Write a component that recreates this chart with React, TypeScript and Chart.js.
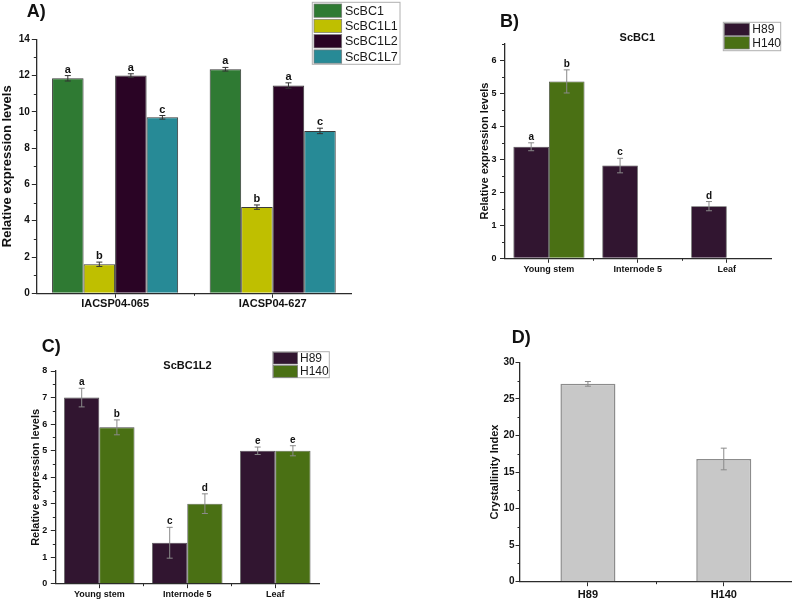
import { useEffect, useRef } from "react";
import { Chart, registerables } from "chart.js";

Chart.register(...registerables);

const FONT = "'Liberation Sans', Arial, Helvetica, sans-serif";

// ---- A) expression of the ScBC genes in two cultivars ----
const cultivars = ["IACSP04-065", "IACSP04-627"];
const scbc1 = [11.85, 12.35];
const scbc1Err = [0.15, 0.1];
const scbc1Letters = ["a", "a"];
const scbc1l1 = [1.6, 4.75];
const scbc1l1Err = [0.12, 0.12];
const scbc1l1Letters = ["b", "b"];
const scbc1l2 = [12.0, 11.45];
const scbc1l2Err = [0.1, 0.15];
const scbc1l2Letters = ["a", "a"];
const scbc1l7 = [9.7, 8.95];
const scbc1l7Err = [0.1, 0.15];
const scbc1l7Letters = ["c", "c"];

// ---- B) ScBC1 by tissue ----
const tissues = ["Young stem", "Internode 5", "Leaf"];
const bH89 = [3.38, 2.81, 1.58];
const bH89Err = [0.12, 0.22, 0.14];
const bH89Letters = ["a", "c", "d"];
const bH140 = [5.36, null, null];
const bH140Err = [0.35, null, null];
const bH140Letters = ["b", "", ""];

// ---- C) ScBC1L2 by tissue ----
const cH89 = [7.0, 1.54, 5.0];
const cH89Err = [0.35, 0.58, 0.14];
const cH89Letters = ["a", "c", "e"];
const cH140 = [5.88, 3.01, 5.0];
const cH140Err = [0.28, 0.37, 0.19];
const cH140Letters = ["b", "d", "e"];

// ---- D) crystallinity index ----
const genotypes = ["H89", "H140"];
const crystallinity = [27.05, 16.78];
const crystallinityErr = [0.32, 1.48];

type Rect = { x: number; y: number; w: number; h: number };
type Plot = { l: number; t: number; r: number; b: number };

interface SeriesSpec {
  label: string;
  data: (number | null)[];
  err: (number | null)[];
  letters?: string[];
  color: string;
}

interface LegendSpec {
  x: number;
  y: number;
  w: number;
  h: number;
  rowH: number;
  inset: number;
  swatchW: number;
  swatchH: number;
  textX: number;
  fontSize: number;
}

interface PanelSpec {
  canvas: Rect;
  plot: Plot;
  categories: string[];
  series: SeriesSpec[];
  yMax: number;
  yStep: number;
  yTitle: string;
  yTitleSize: number;
  yTickSize: number;
  yTickPad: number;
  xTickSize: number;
  xTickPad: number;
  categoryPct: number;
  barBorder: string;
  barBorderWidth: number;
  errColor: string;
  capHalf: number;
  letterSize: number;
  tag: { text: string; x: number; y: number };
  heading?: { text: string; x: number; y: number; size: number };
  legend?: LegendSpec;
}

const AXIS = "#2b2b2b";
const TEXT = "#111111";
const MAJOR_LEN = 4.5;
const MINOR_LEN = 2.5;

const H89_COLOR = "#311530";
const H140_COLOR = "#4a7014";

const panels: PanelSpec[] = [
  {
    canvas: { x: 0, y: 0, w: 420, h: 315 },
    plot: { l: 36.3, t: 39.3, r: 351.5, b: 293.3 },
    categories: cultivars,
    series: [
      { label: "ScBC1", data: scbc1, err: scbc1Err, letters: scbc1Letters, color: "#2f7a33" },
      { label: "ScBC1L1", data: scbc1l1, err: scbc1l1Err, letters: scbc1l1Letters, color: "#bfbf00" },
      { label: "ScBC1L2", data: scbc1l2, err: scbc1l2Err, letters: scbc1l2Letters, color: "#2a0425" },
      { label: "ScBC1L7", data: scbc1l7, err: scbc1l7Err, letters: scbc1l7Letters, color: "#278a96" },
    ],
    yMax: 14,
    yStep: 2,
    yTitle: "Relative expression levels",
    yTitleSize: 13,
    yTickSize: 10,
    yTickPad: 2,
    xTickSize: 11,
    xTickPad: 0,
    categoryPct: 0.8,
    barBorder: "#3a3a3a",
    barBorderWidth: 1,
    errColor: "#333333",
    capHalf: 3,
    letterSize: 11,
    tag: { text: "A)", x: 26.7, y: 11.7 },
    legend: {
      x: 312.3, y: 2.3, w: 87.7, h: 62, rowH: 15.3, inset: 1.7,
      swatchW: 27.7, swatchH: 13.3, textX: 345, fontSize: 12.5,
    },
  },
  {
    canvas: { x: 478, y: 0, w: 316, h: 285 },
    plot: { l: 504.5, t: 43.8, r: 771.2, b: 258.3 },
    categories: tissues,
    series: [
      { label: "H89", data: bH89, err: bH89Err, letters: bH89Letters, color: H89_COLOR },
      { label: "H140", data: bH140, err: bH140Err, letters: bH140Letters, color: H140_COLOR },
    ],
    yMax: 6.5,
    yStep: 1,
    yTitle: "Relative expression levels",
    yTitleSize: 11,
    yTickSize: 9,
    yTickPad: 3.5,
    xTickSize: 9,
    xTickPad: 1,
    categoryPct: 0.8,
    barBorder: "#444444",
    barBorderWidth: 0.8,
    errColor: "#8a8a8a",
    capHalf: 3,
    letterSize: 10,
    tag: { text: "B)", x: 500, y: 22.5 },
    heading: { text: "ScBC1", x: 637.3, y: 38, size: 11 },
    legend: {
      x: 723.3, y: 22.3, w: 57.4, h: 28.4, rowH: 13.4, inset: 1,
      swatchW: 25, swatchH: 12.3, textX: 752.3, fontSize: 12,
    },
  },
  {
    canvas: { x: 29, y: 325, w: 330, h: 276 },
    plot: { l: 55.3, t: 371, r: 319.3, b: 583.7 },
    categories: tissues,
    series: [
      { label: "H89", data: cH89, err: cH89Err, letters: cH89Letters, color: H89_COLOR },
      { label: "H140", data: cH140, err: cH140Err, letters: cH140Letters, color: H140_COLOR },
    ],
    yMax: 8,
    yStep: 1,
    yTitle: "Relative expression levels",
    yTitleSize: 11,
    yTickSize: 9,
    yTickPad: 3.5,
    xTickSize: 9,
    xTickPad: 1,
    categoryPct: 0.8,
    barBorder: "#444444",
    barBorderWidth: 0.8,
    errColor: "#8a8a8a",
    capHalf: 3,
    letterSize: 10,
    tag: { text: "C)", x: 41.7, y: 346.7 },
    heading: { text: "ScBC1L2", x: 187.5, y: 365.8, size: 11 },
    legend: {
      x: 272.7, y: 351.7, w: 56.6, h: 26, rowH: 13.3, inset: 0.6,
      swatchW: 24.3, swatchH: 11.7, textX: 300, fontSize: 12,
    },
  },
  {
    canvas: { x: 488, y: 320, w: 306, h: 281 },
    plot: { l: 520, t: 362.3, r: 791.7, b: 581.7 },
    categories: genotypes,
    series: [
      { label: "Crystallinity Index", data: crystallinity, err: crystallinityErr, color: "#c8c8c8" },
    ],
    yMax: 30,
    yStep: 5,
    yTitle: "Crystallinity Index",
    yTitleSize: 11,
    yTickSize: 10,
    yTickPad: 1,
    xTickSize: 11,
    xTickPad: 2,
    categoryPct: 0.405,
    barBorder: "#8c8c8c",
    barBorderWidth: 1.5,
    errColor: "#8a8a8a",
    capHalf: 3,
    letterSize: 10,
    tag: { text: "D)", x: 511.7, y: 338.3 },
  },
];

function makeExtras(spec: PanelSpec) {
  const ox = spec.canvas.x;
  const oy = spec.canvas.y;
  return {
    id: "panelExtras",
    afterDatasetsDraw(chart: any) {
      const ctx = chart.ctx;
      const yScale = chart.scales.y;
      chart.data.datasets.forEach((ds: any, i: number) => {
        const meta = chart.getDatasetMeta(i);
        meta.data.forEach((bar: any, j: number) => {
          const v = ds.data[j];
          const e = ds.errorBars ? ds.errorBars[j] : null;
          if (v == null || e == null) return;
          const x = bar.x;
          const top = yScale.getPixelForValue(v + e);
          const bot = yScale.getPixelForValue(v - e);
          ctx.save();
          ctx.strokeStyle = spec.errColor;
          ctx.lineWidth = 1;
          ctx.beginPath();
          ctx.moveTo(x, top);
          ctx.lineTo(x, bot);
          ctx.moveTo(x - spec.capHalf, top);
          ctx.lineTo(x + spec.capHalf, top);
          ctx.moveTo(x - spec.capHalf, bot);
          ctx.lineTo(x + spec.capHalf, bot);
          ctx.stroke();
          const letter = ds.letters ? ds.letters[j] : "";
          if (letter) {
            ctx.fillStyle = TEXT;
            ctx.font = `bold ${spec.letterSize}px ${FONT}`;
            ctx.textAlign = "center";
            ctx.textBaseline = "alphabetic";
            ctx.fillText(letter, x, top - 3);
          }
          ctx.restore();
        });
      });
    },
    afterDraw(chart: any) {
      const ctx = chart.ctx;
      const xScale = chart.scales.x;
      const yScale = chart.scales.y;
      const area = chart.chartArea;
      ctx.save();
      // minor ticks on the value axis
      ctx.strokeStyle = AXIS;
      ctx.lineWidth = 1;
      ctx.beginPath();
      for (let v = spec.yStep / 2; v <= spec.yMax + 1e-9; v += spec.yStep) {
        const py = Math.round(yScale.getPixelForValue(v)) + 0.5;
        ctx.moveTo(area.left, py);
        ctx.lineTo(area.left - MINOR_LEN, py);
      }
      // minor ticks between categories
      for (let k = 1; k < spec.categories.length; k++) {
        const px = Math.round(xScale.getPixelForValue(k - 0.5)) + 0.5;
        ctx.moveTo(px, area.bottom);
        ctx.lineTo(px, area.bottom + MINOR_LEN);
      }
      ctx.stroke();

      // panel tag
      ctx.fillStyle = TEXT;
      ctx.font = `bold 18px ${FONT}`;
      ctx.textAlign = "left";
      ctx.textBaseline = "middle";
      ctx.fillText(spec.tag.text, spec.tag.x - ox, spec.tag.y - oy);

      // heading
      if (spec.heading) {
        ctx.font = `bold ${spec.heading.size}px ${FONT}`;
        ctx.textAlign = "center";
        ctx.fillText(spec.heading.text, spec.heading.x - ox, spec.heading.y - oy);
      }

      // legend
      const lg = spec.legend;
      if (lg) {
        ctx.fillStyle = "#ffffff";
        ctx.fillRect(lg.x - ox, lg.y - oy, lg.w, lg.h);
        ctx.strokeStyle = "#b0b0b0";
        ctx.lineWidth = 1;
        ctx.strokeRect(lg.x - ox, lg.y - oy, lg.w, lg.h);
        spec.series.forEach((s, i) => {
          const sx = lg.x + lg.inset - ox;
          const sy = lg.y + lg.inset + i * lg.rowH - oy;
          ctx.fillStyle = s.color;
          ctx.fillRect(sx, sy, lg.swatchW, lg.swatchH);
          ctx.strokeStyle = "#7a7a7a";
          ctx.lineWidth = 0.7;
          ctx.strokeRect(sx, sy, lg.swatchW, lg.swatchH);
          ctx.fillStyle = "#1a1a1a";
          ctx.font = `${lg.fontSize}px ${FONT}`;
          ctx.textAlign = "left";
          ctx.textBaseline = "middle";
          ctx.fillText(s.label, lg.textX - ox, sy + lg.swatchH / 2 + 0.5);
        });
      }
      ctx.restore();
    },
  };
}

function Panel({ spec }: { spec: PanelSpec }) {
  const ref = useRef<HTMLCanvasElement | null>(null);

  useEffect(() => {
    const canvas = ref.current;
    if (!canvas) return;
    const { canvas: c, plot } = spec;
    const yAxisWidth = plot.l - c.x;
    const xAxisHeight = c.y + c.h - plot.b;

    const chart = new Chart(canvas, {
      type: "bar",
      data: {
        labels: spec.categories,
        datasets: spec.series.map((s) => ({
          label: s.label,
          data: s.data,
          errorBars: s.err,
          letters: s.letters,
          backgroundColor: s.color,
          borderColor: spec.barBorder,
          borderWidth: spec.barBorderWidth,
          borderSkipped: "bottom",
          categoryPercentage: spec.categoryPct,
          barPercentage: 1,
        })) as any,
      },
      options: {
        animation: false,
        responsive: false,
        events: [],
        layout: {
          padding: { left: 0, top: plot.t - c.y, right: c.x + c.w - plot.r, bottom: 0 },
        },
        plugins: {
          legend: { display: false },
          title: { display: false },
          tooltip: { enabled: false },
        },
        scales: {
          x: {
            type: "category",
            offset: true,
            grid: {
              display: true,
              offset: false,
              drawOnChartArea: false,
              drawTicks: true,
              tickLength: MAJOR_LEN,
              color: AXIS,
              lineWidth: 1,
            },
            border: { display: true, color: AXIS, width: 1.3 },
            ticks: {
              color: TEXT,
              padding: spec.xTickPad,
              maxRotation: 0,
              autoSkip: false,
              font: { family: FONT, size: spec.xTickSize, weight: "bold" },
            },
            afterFit: (scale: any) => {
              scale.height = xAxisHeight;
            },
          },
          y: {
            type: "linear",
            min: 0,
            max: spec.yMax,
            grid: {
              display: true,
              drawOnChartArea: false,
              drawTicks: true,
              tickLength: MAJOR_LEN,
              color: AXIS,
              lineWidth: 1,
            },
            border: { display: true, color: AXIS, width: 1.3 },
            ticks: {
              stepSize: spec.yStep,
              includeBounds: false,
              color: TEXT,
              padding: spec.yTickPad,
              font: { family: FONT, size: spec.yTickSize, weight: "bold" },
            },
            title: {
              display: true,
              text: spec.yTitle,
              color: TEXT,
              padding: 0,
              font: { family: FONT, size: spec.yTitleSize, weight: "bold" },
            },
            afterFit: (scale: any) => {
              scale.width = yAxisWidth;
            },
          },
        },
      } as any,
      plugins: [makeExtras(spec)],
    });
    return () => chart.destroy();
  }, [spec]);

  return (
    <canvas
      ref={ref}
      width={spec.canvas.w}
      height={spec.canvas.h}
      style={{
        position: "absolute",
        left: spec.canvas.x,
        top: spec.canvas.y,
        width: spec.canvas.w,
        height: spec.canvas.h,
      }}
    />
  );
}

export default function App() {
  return (
    <div
      style={{
        position: "absolute",
        left: 0,
        top: 0,
        width: 794,
        height: 601,
        background: "#ffffff",
        overflow: "hidden",
      }}
    >
      {panels.map((p, i) => (
        <Panel key={i} spec={p} />
      ))}
    </div>
  );
}
